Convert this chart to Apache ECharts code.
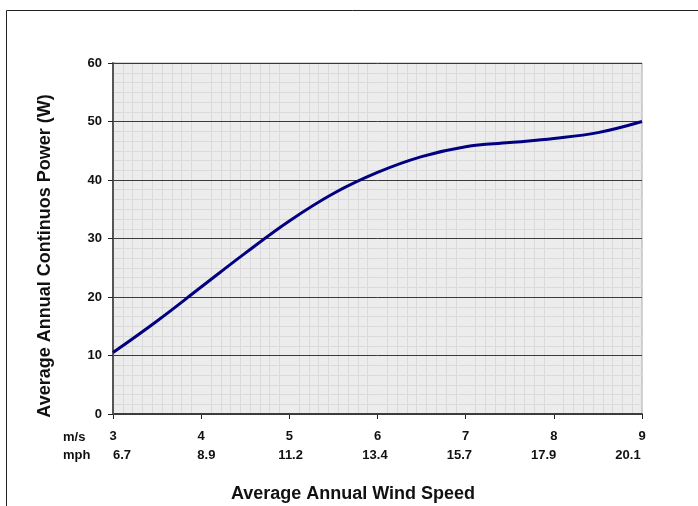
<!DOCTYPE html>
<html>
<head>
<meta charset="utf-8">
<script src="https://cdn.jsdelivr.net/npm/echarts@6/dist/echarts.min.js"></script>
<style>
html,body{margin:0;padding:0;background:#fff;}
#c{width:698px;height:506px;}
</style>
</head>
<body>
<div id="c"></div>
<script>
// Data
var windMs = [3, 3.5, 4, 4.5, 5, 5.5, 6, 6.5, 7, 7.5, 8, 8.5, 9];
var powerW = [10.5, 15.9, 21.7, 27.5, 33.0, 37.7, 41.3, 44.0, 45.7, 46.4, 47.1, 48.1, 50.0];
var msTickLabels = ['3', '4', '5', '6', '7', '8', '9'];
var mphTickLabels = ['6.7', '8.9', '11.2', '13.4', '15.7', '17.9', '20.1'];
var yTickLabels = ['0', '10', '20', '30', '40', '50', '60'];

var FONT = "'Liberation Sans', Arial, sans-serif";
var points = windMs.map(function (x, i) { return [x, powerW[i]]; });

var chart = echarts.init(document.getElementById('c'), null, {renderer: 'canvas'});
chart.setOption({
  animation: false,
  backgroundColor: '#ffffff',
  grid: [
    {left: 113, right: 56, top: 63, bottom: 92, show: true,
     backgroundColor: '#ececec', borderColor: '#a8a8a8', borderWidth: 1},
    {left: 122, right: 70, top: 63, bottom: 92, show: false}
  ],
  xAxis: [
    {
      type: 'value', gridIndex: 0, min: 3, max: 9, interval: 1, z: 0,
      axisLine: {show: true, onZero: false, lineStyle: {color: '#111', width: 1.5}},
      axisTick: {show: true, inside: false, length: 5, lineStyle: {color: '#222', width: 1}},
      axisLabel: {
        margin: 16, fontFamily: FONT, fontSize: 13, fontWeight: 'bold', color: '#111',
        showMinLabel: true, showMaxLabel: true,
        formatter: function (v) { return msTickLabels[Math.round(v - 3)]; }
      },
      splitLine: {show: false},
      minorTick: {show: false, splitNumber: 9},
      minorSplitLine: {show: true, lineStyle: {color: '#dadada', width: 1}}
    },
    {
      type: 'value', gridIndex: 1, min: 0, max: 6, interval: 1,
      axisLine: {show: false}, axisTick: {show: false},
      axisLabel: {
        margin: 35, fontFamily: FONT, fontSize: 13, fontWeight: 'bold', color: '#111',
        showMinLabel: true, showMaxLabel: true,
        formatter: function (v) { return mphTickLabels[Math.round(v)]; }
      },
      splitLine: {show: false}
    }
  ],
  yAxis: [
    {
      type: 'value', gridIndex: 0, min: 0, max: 60, interval: 10, z: 1,
      axisLine: {show: true, onZero: false, lineStyle: {color: '#555', width: 2}},
      axisTick: {show: true, inside: false, length: 5, lineStyle: {color: '#222', width: 1}},
      axisLabel: {
        margin: 11, fontFamily: FONT, fontSize: 13, fontWeight: 'bold', color: '#111',
        formatter: function (v) { return yTickLabels[Math.round(v / 10)]; }
      },
      splitLine: {show: true, lineStyle: {color: '#3a3a3a', width: 1}},
      minorTick: {show: false, splitNumber: 6},
      minorSplitLine: {show: true, lineStyle: {color: '#dadada', width: 1}}
    },
    {type: 'value', gridIndex: 1, min: 0, max: 60, show: false}
  ],
  series: [
    {
      type: 'line', xAxisIndex: 0, yAxisIndex: 0,
      data: points, smooth: 0.4, symbol: 'none',
      lineStyle: {color: '#000080', width: 3}, z: 5
    }
  ],
  graphic: [
    {type: 'rect', z: -10, silent: true,
     shape: {x: 6.5, y: 10.5, width: 760, height: 560},
     style: {fill: 'none', stroke: '#222', lineWidth: 1}},
    {type: 'text', x: 63, y: 437,
     style: {text: 'm/s', font: 'bold 13px ' + FONT, fill: '#111', align: 'left', verticalAlign: 'middle'}},
    {type: 'text', x: 63, y: 455,
     style: {text: 'mph', font: 'bold 13px ' + FONT, fill: '#111', align: 'left', verticalAlign: 'middle'}},
    {type: 'text', x: 45, y: 256, rotation: Math.PI / 2,
     style: {text: 'Average Annual Continuos Power (W)', font: 'bold 18px ' + FONT, fill: '#111',
             align: 'center', verticalAlign: 'middle'}},
    {type: 'text', x: 353, y: 494,
     style: {text: 'Average Annual Wind Speed', font: 'bold 18px ' + FONT, fill: '#111',
             align: 'center', verticalAlign: 'middle'}}
  ]
});
</script>
</body>
</html>
